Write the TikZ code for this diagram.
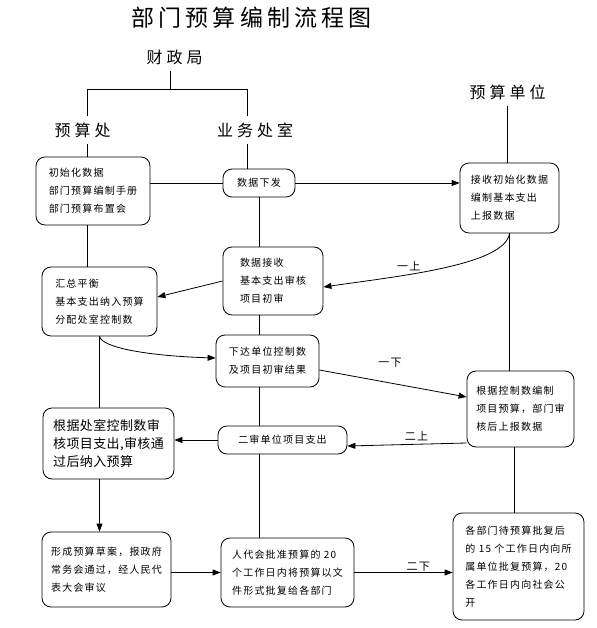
\documentclass[tikz,border=0pt]{standalone}
\usepackage{fontspec}
\setmainfont{Noto Sans CJK SC}
\newfontfamily\ttlfont{Noto Sans CJK SC}[LetterSpace=18]
\newfontfamily\hdfont{Noto Sans CJK SC}[LetterSpace=25]
\newfontfamily\bigfont{Noto Sans CJK SC}[LetterSpace=3]
\newfontfamily\txtfont{Noto Sans CJK SC}[LetterSpace=12]
\usetikzlibrary{arrows.meta}

\begin{document}
\begin{tikzpicture}[x=1pt, y=-1pt, line width=0.8pt,
  box/.style={draw, rounded corners=9pt, align=left, inner sep=0pt, font=\txtfont\fontsize{10}{18}\selectfont},
  bigbox/.style={box, font=\bigfont\fontsize{13}{18}\selectfont},
  arr/.style={-{Triangle[length=8pt,width=6pt]}},
  hd/.style={font=\hdfont\fontsize{16}{18}\selectfont, inner sep=6pt},
  lbl/.style={font=\txtfont\fontsize{11}{13}\selectfont}
]
\useasboundingbox (0,0) rectangle (596,628);

% headings
\node[font=\ttlfont\fontsize{23}{25}\selectfont] (title) at (251.5,18) {部门预算编制流程图};
\node[hd] (czj) at (174.5,57) {财政局};
\node[hd] (ysc) at (82.5,130) {预算处};
\node[hd] (ywc) at (255,130) {业务处室};
\node[hd] (ydw) at (507.5,92) {预算单位};

% boxes
\node[box, minimum width=114pt, minimum height=68pt] (b1) at (93,191) {初始化数据\\部门预算编制手册\\部门预算布置会};
\node[box, minimum width=72pt, minimum height=28pt] (xf) at (259,183) {数据下发};
\node[box, minimum width=99pt, minimum height=70pt] (r1) at (509.5,198) {接收初始化数据\\编制基本支出\\上报数据};
\node[box, minimum width=100pt, minimum height=68pt] (js) at (273,281) {数据接收\\基本支出审核\\项目初审};
\node[box, minimum width=115pt, minimum height=69pt] (hz) at (99.5,301.5) {汇总平衡\\基本支出纳入预算\\分配处室控制数};
\node[box, minimum width=103pt, minimum height=52pt] (xd) at (267.5,361) {下达单位控制数\\及项目初审结果};
\node[box, minimum width=107pt, minimum height=76pt] (gk) at (520.5,409) {根据控制数编制\\项目预算，部门审\\核后上报数据};
\node[box, minimum width=129pt, minimum height=28pt] (es) at (282.5,440) {二审单位项目支出};
\node[bigbox, minimum width=131pt, minimum height=71pt] (gc) at (108.5,443.5) {根据处室控制数审\\核项目支出,审核通\\过后纳入预算};
\node[box, minimum width=129pt, minimum height=75pt] (xc) at (106.5,569.5) {形成预算草案，报政府\\常务会通过，经人民代\\表大会审议};
\node[box, minimum width=133pt, minimum height=69pt] (rd) at (287.5,572.5) {人代会批准预算的 20\\个工作日内将预算以文\\件形式批复给各部门};
\node[box, minimum width=131pt, minimum height=107pt] (gb) at (518.5,566.5) {各部门待预算批复后\\的 15 个工作日内向所\\属单位批复预算，20\\各工作日内向社会公\\开};

% tree under the finance bureau
\coordinate (jc) at (170,89);
\coordinate (jl) at (87,89);
\coordinate (jr) at (247,89);
\draw (jc |- czj.south) -- (jc);
\draw (jl) -- (jr);
\draw (jl) -- (jl |- ysc.north);
\draw (jr) -- (jr |- ywc.north);
\draw (jl |- ysc.south) -- (jl |- b1.north);
\draw (jr |- ywc.south) -- (jr |- xf.north);
\draw (ydw.south) -- (ydw.south |- r1.north);

% connectors
\draw (b1.east |- xf) -- (xf);
\draw[arr] (xf) -- (xf -| r1.west);
\draw (jl |- b1.south) -- (jl |- hz.north);
\draw (xf) -- (xf |- js.north);
\draw[arr] (js.west) -- ([yshift=4.5pt]hz.east);
\draw[arr] (r1.south) .. controls (505,265) and (400,276) .. node[lbl, pos=0.65, above] {一上} ([yshift=-6pt]js.east);
\draw (r1.south) -- (r1.south |- gk.north);
\draw (js.south -| xf) -- (xd.north -| xf);
\draw[arr] (hz.south) .. controls (102,348) and (150,356) .. ([yshift=3pt]xd.west);
\draw (hz.south) -- (hz.south |- gc.north);
\draw[arr] ([yshift=-9pt]xd.east) -- node[lbl, pos=0.48, above=12pt] {一下} ([yshift=12pt]gk.west);
\draw[arr] ([yshift=-34pt]gk.west) -- node[lbl, pos=0.42, above] {二上} ([yshift=-6pt]es.east);
\draw[arr] (es.west) -- (es.west -| gc.east);
\draw (xd.south -| xf) -- (es.north -| xf);
\draw (es.south -| xf) -- (rd.north -| xf);
\draw[arr] (gc.south -| hz) -- (xc.north -| hz);
\draw[arr] (rd.west -| xc.east) -- (rd.west);
\draw[arr] (rd.east) -- node[lbl, pos=0.65, above=-3pt] {二下} (rd.east -| gb.west);
\draw ([xshift=-6pt]gk.south) -- ([xshift=-6pt]gk.south |- gb.north);
\end{tikzpicture}
\end{document}
